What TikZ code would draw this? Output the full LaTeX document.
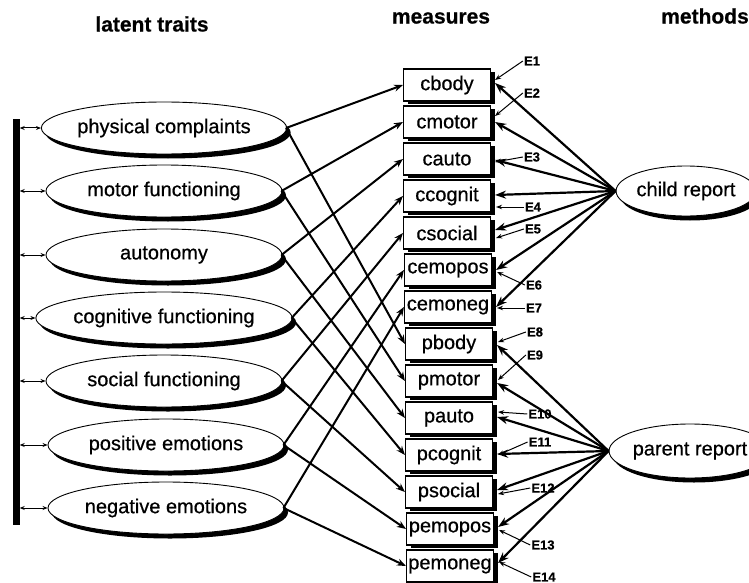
\documentclass[tikz,border=0pt]{standalone}
\usepackage{fontspec}
\setmainfont{Liberation Sans}[FakeBold=0.6]
\usetikzlibrary{shapes.geometric,shadows,arrows.meta}
\begin{document}
\begin{tikzpicture}[x=1pt,y=-1pt,
  title/.style={font=\bfseries\fontsize{21}{25}\selectfont},
  trait/.style={ellipse, draw, line width=0.9pt, fill=white, minimum width=236pt, minimum height=52pt, inner sep=0pt,
    font=\fontsize{20}{23}\selectfont,
    drop shadow={shadow xshift=4pt, shadow yshift=-4.5pt, fill=black, opacity=1}},
  method/.style={trait, minimum width=128pt, minimum height=50pt},
  measure/.style={rectangle, draw, line width=1.1pt, fill=white, minimum width=87pt, minimum height=32pt, inner sep=0pt,
    font=\fontsize{20}{23}\selectfont,
    drop shadow={shadow xshift=4pt, shadow yshift=-3pt, fill=black, opacity=1}},
  errl/.style={font=\bfseries\fontsize{13}{15}\selectfont, inner sep=1pt},
  load/.style={line width=2pt, -{Stealth[length=9pt,width=7pt]}},
  mload/.style={line width=2.2pt, -{Stealth[length=11pt,width=8pt]}},
  err/.style={line width=1pt, -{Stealth[length=6pt,width=4.5pt]}},
  cov/.style={line width=1pt, {Stealth[length=5pt,width=4pt]}-{Stealth[length=5pt,width=4pt]}}
]
\useasboundingbox (0,0) rectangle (749,583);

% titles
\node[title] (tlat) at (152,24) {latent traits};
\node[title] (tmea) at (441,18) {measures};
\node[title] (tmet) at (705,16) {methods};

% correlation bar
\node[fill=black, minimum width=7pt, minimum height=405pt, inner sep=0pt] (bar) at (16,322) {};

% latent traits
\node[trait] (t1) at (164,128) {physical complaints};
\node[trait] (t2) at (164,191) {motor functioning};
\node[trait] (t3) at (164,255) {autonomy};
\node[trait] (t4) at (164,318) {cognitive functioning};
\node[trait] (t5) at (164,381) {social functioning};
\node[trait] (t6) at (166,445) {positive emotions};
\node[trait] (t7) at (166,508) {negative emotions};

% measures
\node[measure] (cbody)   at (447,85)  {cbody};
\node[measure] (cmotor)  at (447,122) {cmotor};
\node[measure] (cauto)   at (447,159) {cauto};
\node[measure] (ccognit) at (447,196) {ccognit};
\node[measure] (csocial) at (447,233) {csocial};
\node[measure] (cemopos) at (448,270) {cemopos};
\node[measure] (cemoneg) at (448,307) {cemoneg};
\node[measure] (pbody)   at (449,344) {pbody};
\node[measure] (pmotor)  at (449,381) {pmotor};
\node[measure] (pauto)   at (449,418) {pauto};
\node[measure] (pcognit) at (449,455) {pcognit};
\node[measure] (psocial) at (449,492) {psocial};
\node[measure] (pemopos) at (450,529) {pemopos};
\node[measure] (pemoneg) at (450,566) {pemoneg};

% methods
\node[method] (child)  at (686,191) {child report};
\node[method, minimum width=134pt, minimum height=54pt] (parent) at (690,451) {parent report};

% error labels
\node[errl] (e1)  at (532,61)  {E1};
\node[errl] (e2)  at (532,93)  {E2};
\node[errl] (e3)  at (532,157) {E3};
\node[errl] (e4)  at (533,207) {E4};
\node[errl] (e5)  at (533,229) {E5};
\node[errl] (e6)  at (534,285) {E6};
\node[errl] (e7)  at (534,308) {E7};
\node[errl] (e8)  at (535,332) {E8};
\node[errl] (e9)  at (535,355) {E9};
\node[errl] (e10) at (540,414) {E10};
\node[errl] (e11) at (540,442) {E11};
\node[errl] (e12) at (543,488) {E12};
\node[errl] (e13) at (543,545) {E13};
\node[errl] (e14) at (544,577) {E14};

% trait correlations
\foreach \t in {t1,t2,t3,t4,t5,t6,t7}
  \draw[cov] (bar.east |- \t.west) -- (\t.west);

% loadings
\foreach \t/\c/\p in {t1/cbody/pbody, t2/cmotor/pmotor, t3/cauto/pauto, t4/ccognit/pcognit,
                      t5/csocial/psocial, t6/cemopos/pemopos, t7/cemoneg/pemoneg}{
  \draw[load] ([xshift=-1pt]\t.east) -- (\c.west);
  \draw[load] ([xshift=-1pt]\t.east) -- (\p.west);
}

% method effects
\foreach \m/\dy in {cbody/-2, cmotor/0, cauto/1, ccognit/-1, csocial/-3, cemopos/0, cemoneg/0}
  \draw[mload] (child.west) -- ([shift={(4,\dy)}]\m.east);
\foreach \m/\dy in {pbody/1, pmotor/2, pauto/-1, pcognit/-1, psocial/-2, pemopos/-2, pemoneg/-3}
  \draw[mload] (parent.west) -- ([shift={(4,\dy)}]\m.east);

% errors
\foreach \e/\m/\dx/\dy in {e1/cbody/4/-5, e2/cmotor/4/-6, e3/cauto/4/3, e4/ccognit/5/11, e5/csocial/5/5,
                           e6/cemopos/5/2, e7/cemoneg/5/1, e8/pbody/5/-2, e9/pmotor/5/-1, e10/pauto/5/-6,
                           e11/pcognit/5/0, e12/psocial/5/2, e13/pemopos/5/1, e14/pemoneg/5/-4}
  \draw[err] (\e.west) -- ([shift={(\dx,\dy)}]\m.east);
\end{tikzpicture}
\end{document}
